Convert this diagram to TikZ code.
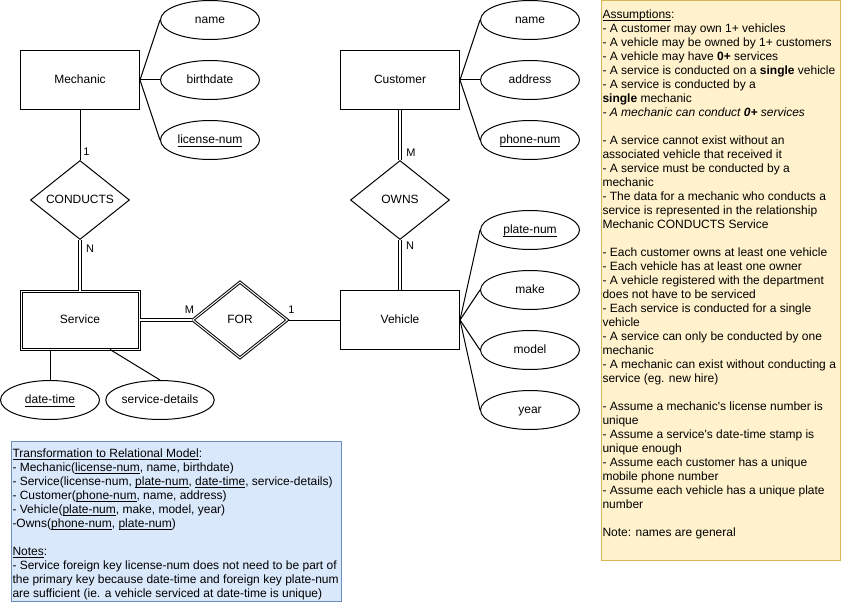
\documentclass[tikz,border=0pt]{standalone}
\usepackage{fontspec}
\setmainfont{Liberation Sans}
\usetikzlibrary{shapes.geometric}
\definecolor{noteyellow}{HTML}{FFF2CC}
\definecolor{noteyellowline}{HTML}{D6B656}
\definecolor{noteblue}{HTML}{DAE8FC}
\definecolor{noteblueline}{HTML}{6C8EBF}
\newcommand\keyu[1]{$\underline{\smash{\hbox{#1}}}$}
\tikzset{
  lbl/.style={text height=7.2pt, text depth=1.3pt},
  entity/.style={draw, rectangle, minimum width=89.25pt, minimum height=44.25pt, inner sep=0pt, lbl},
  weakentity/.style={draw, rectangle, double, double distance=0.75pt, minimum width=88.5pt, minimum height=43.5pt, inner sep=0pt, lbl},
  attr/.style={draw, ellipse, minimum width=74.25pt, minimum height=29.25pt, inner sep=0pt, lbl},
  rel/.style={draw, diamond, aspect=1.25, minimum width=74.25pt, minimum height=59.25pt, inner sep=0pt, lbl},
  weakrel/.style={draw, diamond, aspect=1.25, double, double distance=0.75pt, minimum width=71.25pt, minimum height=57pt, inner sep=0pt, lbl},
  dblline/.style={double, double distance=1.5pt},
  card/.style={font=\fontsize{8.25}{9}\selectfont, inner sep=0pt},
  notetext/.style={anchor=north west, inner sep=0pt, align=left},
}
\begin{document}
\begin{tikzpicture}[x=0.75pt, y=-0.75pt, line width=0.75pt, font=\fontsize{9}{10.5}\selectfont]
\useasboundingbox (0,0) rectangle (841,602);
\fill[white] (0,0) rectangle (841,602);

% notes boxes
\node[draw=noteyellowline, fill=noteyellow, rectangle, anchor=north west, minimum width=179.6pt, minimum height=419.25pt, inner sep=0pt] (abox) at (600.5,0.5) {};
\node[draw=noteblueline, fill=noteblue, rectangle, anchor=north west, minimum width=247.5pt, minimum height=120pt, inner sep=0pt] (rbox) at (10.5,440.5) {};

% entities
\node[entity] (mech) at (80,80) {Mechanic};
\node[entity] (cust) at (400,80) {Customer};
\node[entity] (veh) at (400,320) {Vehicle};
\node[weakentity] (serv) at (80,320) {Service};

% relationships
\node[rel] (conducts) at (80,200) {CONDUCTS};
\node[rel] (owns) at (400,200) {OWNS};
\node[weakrel] (for) at (240,320) {FOR};

% attributes
\node[attr] (mname) at (210,20) {name};
\node[attr] (mbirth) at (210,80) {birthdate};
\node[attr] (mlic) at (210,140) {\keyu{license-num}};
\node[attr] (cname) at (530,20) {name};
\node[attr] (caddr) at (530,80) {address};
\node[attr] (cphone) at (530,140) {\keyu{phone-num}};
\node[attr] (vplate) at (530,230) {\keyu{plate-num}};
\node[attr] (vmake) at (530,290) {make};
\node[attr] (vmodel) at (530,350) {model};
\node[attr] (vyear) at (530,410) {year};
\node[attr] (sdt) at (50,400) {\keyu{date-time}};
\node[attr] (sdet) at (160,400) {service-details};

% attribute links
\foreach \a in {mname,mbirth,mlic} \draw (mech.east) -- (\a.west);
\foreach \a in {cname,caddr,cphone} \draw (cust.east) -- (\a.west);
\foreach \a in {vplate,vmake,vmodel,vyear} \draw (veh.east) -- (\a.west);
\draw (sdt.north) -- (sdt.north |- serv.south);
\draw (sdet.north) -- ([xshift=22.5pt]serv.south);

% relationship links
\draw (mech.south) -- (conducts.north);
\draw[dblline] (conducts.south) -- (serv.north);
\draw[dblline] (serv.east) -- (for.west);
\draw (for.east) -- (veh.west);
\draw[dblline] (cust.south) -- (owns.north);
\draw[dblline] (owns.south) -- (veh.north);

% cardinalities
\node[card] (c1) at (86.5,151.5) {1};
\node[card] (c2) at (90,248.5) {N};
\node[card] (c3) at (189.5,310) {M};
\node[card] (c4) at (291.5,310) {1};
\node[card] (c5) at (411,153) {M};
\node[card] (c6) at (410,245.5) {N};

% assumptions text
\node[notetext] (atext) at (602,8) {\strut\keyu{Assumptions}:\\
- A customer may own 1+ vehicles\\
- A vehicle may be owned by 1+ customers\\
- A vehicle may have \textbf{0+} services\\
- A service is conducted on a \textbf{single} vehicle\\
- A service is conducted by a\\
\textbf{single} mechanic\\
\textit{- A mechanic can conduct \textbf{0+} services}\\[10.5pt]
- A service cannot exist without an\\
associated vehicle that received it\\
- A service must be conducted by a\\
mechanic\\
- The data for a mechanic who conducts a\\
service is represented in the relationship\\
Mechanic CONDUCTS Service\\[10.5pt]
- Each customer owns at least one vehicle\\
- Each vehicle has at least one owner\\
- A vehicle registered with the department\\
does not have to be serviced\\
- Each service is conducted for a single\\
vehicle\\
- A service can only be conducted by one\\
mechanic\\
- A mechanic can exist without conducting a\\
service (eg. new hire)\\[10.5pt]
- Assume a mechanic\textquotesingle s license number is\\
unique\\
- Assume a service\textquotesingle s date-time stamp is\\
unique enough\\
- Assume each customer has a unique\\
mobile phone number\\
- Assume each vehicle has a unique plate\\
number\\[10.5pt]
Note: names are general};

% relational model text
\node[notetext] (rtext) at (12,447.2) {\strut\keyu{Transformation to Relational Model}:\\
- Mechanic(\keyu{license-num}, name, birthdate)\\
- Service(license-num, \keyu{plate-num}, \keyu{date-time}, service-details)\\
- Customer(\keyu{phone-num}, name, address)\\
- Vehicle(\keyu{plate-num}, make, model, year)\\
-Owns(\keyu{phone-num}, \keyu{plate-num})\\[10.5pt]
\keyu{Notes}:\\
- Service foreign key license-num does not need to be part of\\
the primary key because date-time and foreign key plate-num\\
are sufficient (ie. a vehicle serviced at date-time is unique)};
\end{tikzpicture}
\end{document}
